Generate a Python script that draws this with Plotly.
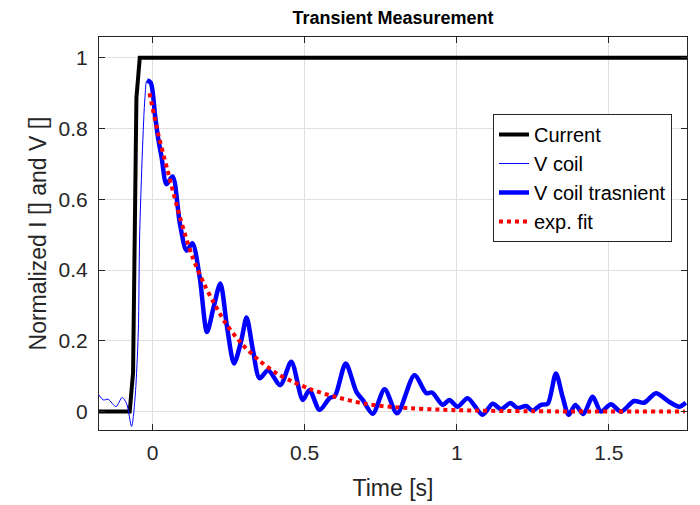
import plotly.graph_objects as go

# ---------------- data ----------------
current_t = [-0.176, -0.075, -0.064, -0.053, -0.042, 1.757]
current_v = [0.0, 0.0, 0.11, 0.887, 1.0, 1.0]

vcoil_pre_t = [-0.176, -0.162, -0.146, -0.120, -0.100, -0.085, -0.069, -0.058, -0.047, -0.042, -0.025]
vcoil_pre_v = [0.047, 0.033, 0.035, 0.014, 0.040, 0.022, -0.042, 0.033, 0.22, 0.51, 0.887]

trans_t = [-0.018, -0.006, 0.008, 0.018, 0.030, 0.046, 0.066, 0.090, 0.112, 0.131, 0.155,
           0.179, 0.201, 0.223, 0.245, 0.268, 0.292, 0.309, 0.330, 0.352, 0.380, 0.420,
           0.456, 0.494, 0.516, 0.549, 0.582, 0.600, 0.635, 0.670, 0.691, 0.724, 0.763,
           0.804, 0.861, 0.900, 0.919, 0.954, 0.976, 1.003, 1.036, 1.085, 1.118, 1.146,
           1.176, 1.200, 1.228, 1.249, 1.277, 1.299, 1.326, 1.348, 1.368, 1.390, 1.416,
           1.447, 1.474, 1.507, 1.540, 1.583, 1.616, 1.655, 1.698, 1.731, 1.753]
trans_v = [0.936, 0.93, 0.84, 0.775, 0.718, 0.643, 0.665, 0.531, 0.455, 0.476, 0.380,
           0.225, 0.296, 0.362, 0.239, 0.136, 0.202, 0.266, 0.174, 0.094, 0.117, 0.075,
           0.141, 0.033, 0.061, 0.005, 0.038, 0.045, 0.136, 0.056, 0.033, -0.006, 0.063,
           -0.005, 0.103, 0.052, 0.054, 0.019, 0.033, 0.014, 0.038, -0.009, 0.022, 0.007,
           0.024, 0.010, 0.016, 0.003, 0.019, 0.022, 0.108, 0.042, -0.009, 0.019, -0.007,
           0.042, 0.000, 0.021, 0.000, 0.030, 0.025, 0.052, 0.028, 0.014, 0.025]

fit_t = [-0.01, 0.02, 0.05, 0.09, 0.13, 0.17, 0.20, 0.24, 0.29, 0.35, 0.41, 0.46,
         0.52, 0.60, 0.70, 0.80, 1.00, 1.25, 1.75]
fit_v = [0.90, 0.78, 0.68, 0.55, 0.44, 0.36, 0.31, 0.25, 0.195, 0.145, 0.107, 0.085,
         0.063, 0.042, 0.022, 0.012, 0.004, 0.001, 0.0]

x_ticks = [0, 0.5, 1, 1.5]
x_tick_labels = ["0", "0.5", "1", "1.5"]
y_ticks = [0, 0.2, 0.4, 0.6, 0.8, 1]
y_tick_labels = ["0", "0.2", "0.4", "0.6", "0.8", "1"]

# ---------------- figure ----------------
DARK = "#262626"
FONT = "Liberation Sans, Arial, Helvetica, sans-serif"

fig = go.Figure()
fig.add_trace(go.Scatter(x=current_t, y=current_v, mode="lines", name="Current",
                         line=dict(color="black", width=4)))
fig.add_trace(go.Scatter(x=vcoil_pre_t + trans_t, y=vcoil_pre_v + trans_v, mode="lines",
                         name="V coil", line=dict(color="blue", width=1, shape="spline", smoothing=0.8)))
fig.add_trace(go.Scatter(x=trans_t, y=trans_v, mode="lines", name="V coil trasnient",
                         line=dict(color="blue", width=4.5, shape="spline", smoothing=0.8)))
fig.add_trace(go.Scatter(x=fit_t, y=fit_v, mode="lines", name="exp. fit",
                         line=dict(color="red", width=4, dash="4px,4px", shape="spline", smoothing=0.8)))

axis_common = dict(
    showgrid=True, gridcolor="#dfdfdf", gridwidth=1,
    zeroline=False, showline=True, linecolor=DARK, linewidth=1.2,
    mirror="ticks", ticks="inside", ticklen=6, tickcolor=DARK, tickwidth=1,
    tickfont=dict(family=FONT, size=21, color=DARK),
)

fig.update_layout(
    width=700, height=505,
    paper_bgcolor="white", plot_bgcolor="white",
    margin=dict(l=99, r=13, t=37, b=75, autoexpand=False),
    title=dict(text="<b>Transient Measurement</b>", x=393 / 700, xanchor="center",
               y=1 - 18 / 505, yanchor="middle",
               font=dict(family=FONT, size=18, color="black")),
    xaxis=dict(range=[-0.176, 1.757], tickvals=x_ticks, ticktext=x_tick_labels,
               ticklabelstandoff=4,
               title=dict(text="Time [s]", font=dict(family=FONT, size=23, color=DARK), standoff=16),
               **axis_common),
    yaxis=dict(range=[-0.052, 1.059], tickvals=y_ticks, ticktext=y_tick_labels,
               ticklabelstandoff=6,
               title=dict(text="Normalized I [] and V []", font=dict(family=FONT, size=23, color=DARK), standoff=5),
               **axis_common),
    legend=dict(x=(672 - 99) / 588, xanchor="right", y=1 - (114 - 37) / 393, yanchor="top",
                bgcolor="white", bordercolor=DARK, borderwidth=1,
                font=dict(family=FONT, size=20, color="black"),
                itemwidth=30, tracegroupgap=0),
    showlegend=True,
)

fig.write_html("out.html", config={"displayModeBar": False},
               post_script="document.body.style.margin='0';document.body.style.padding='0';")
